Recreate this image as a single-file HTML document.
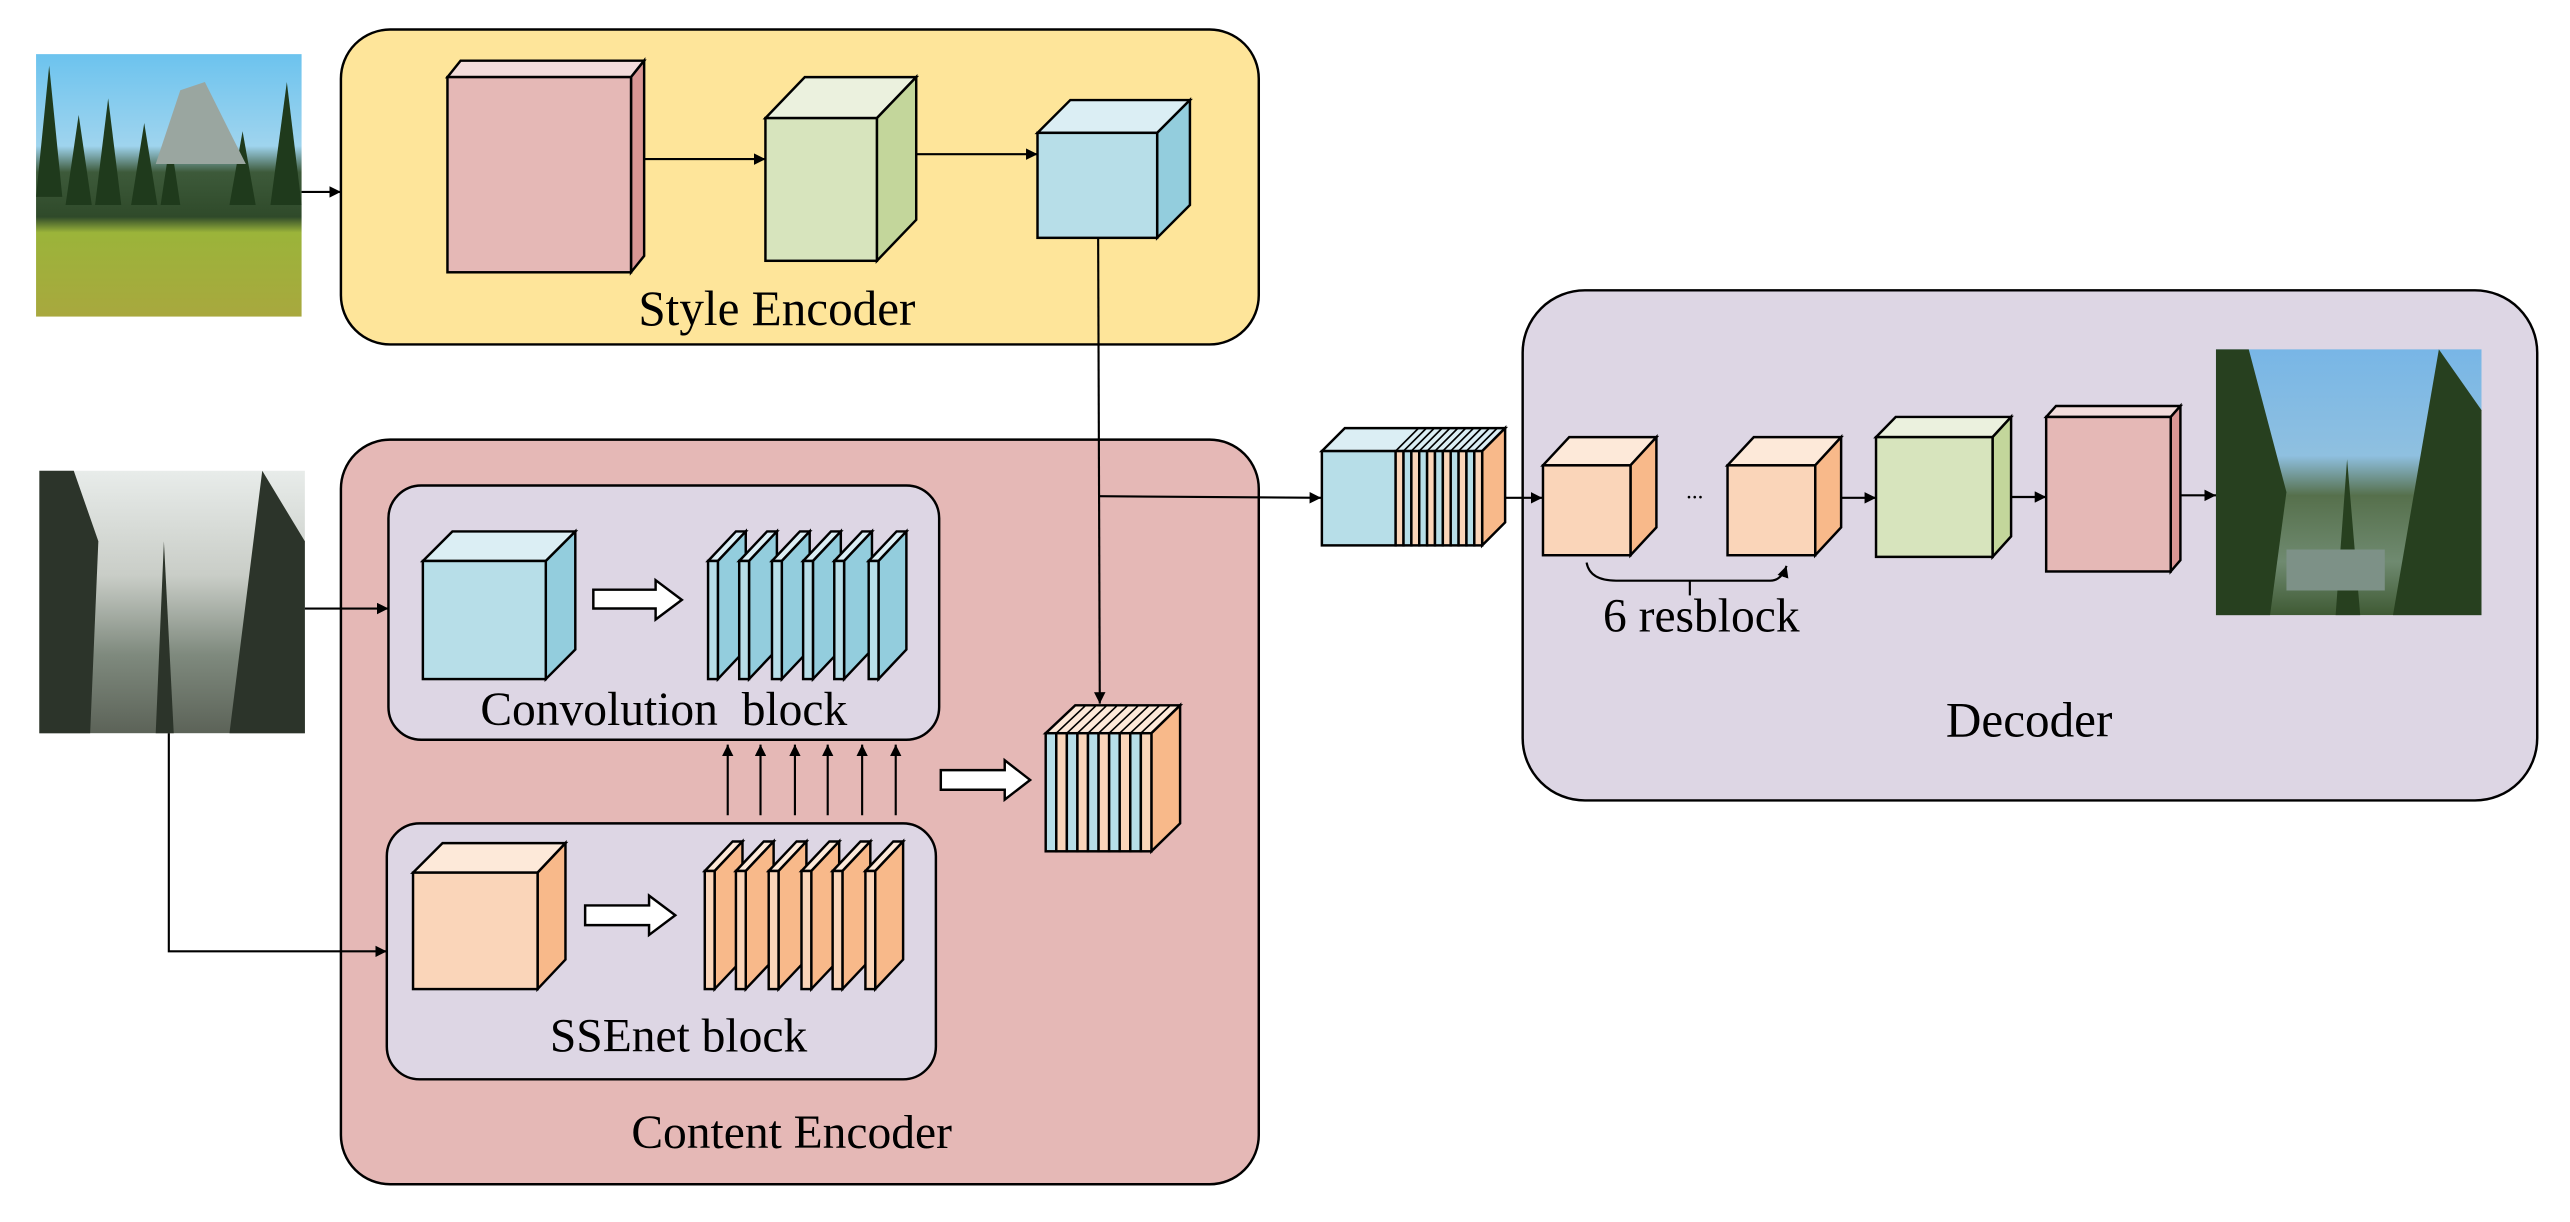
<!DOCTYPE html>
<html><head><meta charset="utf-8"><style>
html,body{margin:0;padding:0;background:#fff;}
svg{display:block;}
text{font-family:"Liberation Serif",serif;fill:#000;}
</style></head><body>
<svg width="2570" height="1222" viewBox="0 0 1568 745" preserveAspectRatio="none" xmlns="http://www.w3.org/2000/svg">
<defs>
<marker id="ah" viewBox="0 0 10 10" refX="10" refY="5" markerWidth="7" markerHeight="7" orient="auto-start-reverse" markerUnits="userSpaceOnUse"><path d="M0,0 L10,5 L0,10 z" fill="#000"/></marker>
<linearGradient id="sky1" x1="0" y1="0" x2="0" y2="1">
<stop offset="0" stop-color="#6cc3ee"/><stop offset="0.35" stop-color="#9fd4ee"/><stop offset="0.45" stop-color="#3d5a3a"/><stop offset="0.62" stop-color="#2f4a2a"/><stop offset="0.68" stop-color="#9bb43a"/><stop offset="1" stop-color="#a8a83e"/></linearGradient>
<linearGradient id="sky2" x1="0" y1="0" x2="0" y2="1">
<stop offset="0" stop-color="#e8ecea"/><stop offset="0.4" stop-color="#c9cdc7"/><stop offset="0.7" stop-color="#7f8a7e"/><stop offset="1" stop-color="#5c6358"/></linearGradient>
<linearGradient id="sky3" x1="0" y1="0" x2="0" y2="1">
<stop offset="0" stop-color="#78b6e6"/><stop offset="0.4" stop-color="#8fc0e0"/><stop offset="0.55" stop-color="#56704c"/><stop offset="0.8" stop-color="#6f8a70"/><stop offset="1" stop-color="#3f5a34"/></linearGradient>
</defs>

<!-- Style Encoder -->
<rect x="208" y="18" width="560" height="192" rx="30" fill="#FEE59A" stroke="#000" stroke-width="1.5"/>
<!-- Content Encoder -->
<rect x="208" y="268" width="560" height="454" rx="30" fill="#E5B8B6" stroke="#000" stroke-width="1.5"/>
<!-- Decoder -->
<rect x="929" y="177" width="619" height="311" rx="38" fill="#DDD6E4" stroke="#000" stroke-width="1.5"/>
<!-- inner blocks -->
<rect x="237" y="296" width="336" height="155" rx="20" fill="#DDD6E4" stroke="#000" stroke-width="1.5"/>
<rect x="236" y="502" width="335" height="156" rx="20" fill="#DDD6E4" stroke="#000" stroke-width="1.5"/>

<!-- Photos -->
<rect x="22" y="33" width="162" height="160" fill="url(#sky1)"/>
<g fill="#1f3a1c">
<polygon points="22,120 30,40 38,120"/><polygon points="40,125 48,70 56,125"/><polygon points="58,125 66,60 74,125"/><polygon points="80,125 88,75 96,125"/><polygon points="98,125 104,85 110,125"/><polygon points="140,125 148,80 156,125"/><polygon points="165,125 175,50 184,125"/>
</g>
<polygon points="95,100 110,55 125,50 140,80 150,100" fill="#9aa6a0"/>
<rect x="24" y="287" width="162" height="160" fill="url(#sky2)"/>
<g fill="#2c342a">
<polygon points="24,447 24,287 45,287 60,330 55,447"/><polygon points="140,447 160,287 186,330 186,447"/><polygon points="95,447 100,330 106,447"/>
</g>
<rect x="1352" y="213" width="162" height="162" fill="url(#sky3)"/>
<g fill="#27401f">
<polygon points="1352,375 1352,213 1372,213 1395,300 1385,375"/><polygon points="1460,375 1488,213 1514,250 1514,375"/><polygon points="1425,375 1432,280 1440,375"/>
</g>
<rect x="1395" y="335" width="60" height="25" fill="#7d9187"/>

<!-- Style encoder cubes -->
<g stroke="#000" stroke-width="1.5" stroke-linejoin="miter">
<polygon points="273,47 281,37 393,37 385,47" fill="#F2DCDB"/>
<polygon points="385,47 393,37 393,156 385,166" fill="#D99694"/>
<rect x="273" y="47" width="112" height="119" fill="#E5B8B6"/>

<polygon points="467,72 491,47 559,47 535,72" fill="#EBF1DE"/>
<polygon points="535,72 559,47 559,134 535,159" fill="#C3D69B"/>
<rect x="467" y="72" width="68" height="87" fill="#D7E4BD"/>

<polygon points="633,81 653,61 726,61 706,81" fill="#DBEEF4"/>
<polygon points="706,81 726,61 726,125 706,145" fill="#93CDDD"/>
<rect x="633" y="81" width="73" height="64" fill="#B7DEE8"/>

<!-- Conv block cube -->
<polygon points="258,342 276,324 351,324 333,342" fill="#DBEEF4"/>
<polygon points="333,342 351,324 351,396 333,414" fill="#93CDDD"/>
<rect x="258" y="342" width="75" height="72" fill="#B7DEE8"/>

<!-- SSEnet cube -->
<polygon points="252,532 270,514 345,514 328,532" fill="#FDE9D9"/>
<polygon points="328,532 345,514 345,585 328,603" fill="#F8B98A"/>
<rect x="252" y="532" width="76" height="71" fill="#FAD5B9"/>

<!-- Blue slices -->
<g>
<polygon points="432,342 449,324 455,324 438,342" fill="#DBEEF4"/><polygon points="438,342 455,324 455,396 438,414" fill="#93CDDD"/><rect x="432" y="342" width="6" height="72" fill="#B7DEE8"/>
<polygon points="451,342 468,324 474,324 457,342" fill="#DBEEF4"/><polygon points="457,342 474,324 474,396 457,414" fill="#93CDDD"/><rect x="451" y="342" width="6" height="72" fill="#B7DEE8"/>
<polygon points="471,342 488,324 494,324 477,342" fill="#DBEEF4"/><polygon points="477,342 494,324 494,396 477,414" fill="#93CDDD"/><rect x="471" y="342" width="6" height="72" fill="#B7DEE8"/>
<polygon points="490,342 507,324 513,324 496,342" fill="#DBEEF4"/><polygon points="496,342 513,324 513,396 496,414" fill="#93CDDD"/><rect x="490" y="342" width="6" height="72" fill="#B7DEE8"/>
<polygon points="509,342 526,324 532,324 515,342" fill="#DBEEF4"/><polygon points="515,342 532,324 532,396 515,414" fill="#93CDDD"/><rect x="509" y="342" width="6" height="72" fill="#B7DEE8"/>
<polygon points="530,342 547,324 553,324 536,342" fill="#DBEEF4"/><polygon points="536,342 553,324 553,396 536,414" fill="#93CDDD"/><rect x="530" y="342" width="6" height="72" fill="#B7DEE8"/>
</g>
<!-- Orange slices -->
<g>
<polygon points="430,531 447,513 453,513 436,531" fill="#FDE9D9"/><polygon points="436,531 453,513 453,585 436,603" fill="#F8B98A"/><rect x="430" y="531" width="6" height="72" fill="#FAD5B9"/>
<polygon points="449,531 466,513 472,513 455,531" fill="#FDE9D9"/><polygon points="455,531 472,513 472,585 455,603" fill="#F8B98A"/><rect x="449" y="531" width="6" height="72" fill="#FAD5B9"/>
<polygon points="469,531 486,513 492,513 475,531" fill="#FDE9D9"/><polygon points="475,531 492,513 492,585 475,603" fill="#F8B98A"/><rect x="469" y="531" width="6" height="72" fill="#FAD5B9"/>
<polygon points="489,531 506,513 512,513 495,531" fill="#FDE9D9"/><polygon points="495,531 512,513 512,585 495,603" fill="#F8B98A"/><rect x="489" y="531" width="6" height="72" fill="#FAD5B9"/>
<polygon points="508,531 525,513 531,513 514,531" fill="#FDE9D9"/><polygon points="514,531 531,513 531,585 514,603" fill="#F8B98A"/><rect x="508" y="531" width="6" height="72" fill="#FAD5B9"/>
<polygon points="528,531 545,513 551,513 534,531" fill="#FDE9D9"/><polygon points="534,531 551,513 551,585 534,603" fill="#F8B98A"/><rect x="528" y="531" width="6" height="72" fill="#FAD5B9"/>
</g>

<!-- Content concat block -->
<polygon points="638,447 656,430 720,430 702.5,447" fill="#FDE9D9"/>
<polygon points="702.5,447 720,430 720,502 702.5,519" fill="#F8B98A"/>
<rect x="638" y="447" width="6.45" height="72" fill="#B7DEE8"/>
<rect x="644.45" y="447" width="6.45" height="72" fill="#FAD5B9"/>
<rect x="650.9" y="447" width="6.45" height="72" fill="#B7DEE8"/>
<rect x="657.35" y="447" width="6.45" height="72" fill="#FAD5B9"/>
<rect x="663.8" y="447" width="6.45" height="72" fill="#B7DEE8"/>
<rect x="670.25" y="447" width="6.45" height="72" fill="#FAD5B9"/>
<rect x="676.7" y="447" width="6.45" height="72" fill="#B7DEE8"/>
<rect x="683.15" y="447" width="6.45" height="72" fill="#FAD5B9"/>
<rect x="689.6" y="447" width="6.45" height="72" fill="#B7DEE8"/>
<rect x="696.05" y="447" width="6.45" height="72" fill="#FAD5B9"/>
<g stroke-width="1"><path d="M644.45,447 L662.45,430 M650.9,447 L668.9,430 M657.35,447 L675.35,430 M663.8,447 L681.8,430 M670.25,447 L688.25,430 M676.7,447 L694.7,430 M683.15,447 L701.15,430 M689.6,447 L707.6,430 M696.05,447 L714.05,430" fill="none"/></g>

<!-- Decoder concat block -->
<polygon points="806.5,275 820.5,261 918.3,261 904.3,275" fill="#DBEEF4"/>
<polygon points="904.3,275 918.3,261 918.3,318.5 904.3,332.5" fill="#F8B98A"/>
<rect x="806.5" y="275" width="45" height="57.5" fill="#B7DEE8"/>
<rect x="851.5" y="275" width="4.8" height="57.5" fill="#FAD5B9"/>
<rect x="856.3" y="275" width="4.8" height="57.5" fill="#B7DEE8"/>
<rect x="861.1" y="275" width="4.8" height="57.5" fill="#FAD5B9"/>
<rect x="865.9" y="275" width="4.8" height="57.5" fill="#B7DEE8"/>
<rect x="870.7" y="275" width="4.8" height="57.5" fill="#FAD5B9"/>
<rect x="875.5" y="275" width="4.8" height="57.5" fill="#B7DEE8"/>
<rect x="880.3" y="275" width="4.8" height="57.5" fill="#FAD5B9"/>
<rect x="885.1" y="275" width="4.8" height="57.5" fill="#B7DEE8"/>
<rect x="889.9" y="275" width="4.8" height="57.5" fill="#FAD5B9"/>
<rect x="894.7" y="275" width="4.8" height="57.5" fill="#B7DEE8"/>
<rect x="899.5" y="275" width="4.8" height="57.5" fill="#FAD5B9"/>
<g stroke-width="1"><path d="M851.5,275 L865.5,261 M856.3,275 L870.3,261 M861.1,275 L875.1,261 M865.9,275 L879.9,261 M870.7,275 L884.7,261 M875.5,275 L889.5,261 M880.3,275 L894.3,261 M885.1,275 L899.1,261 M889.9,275 L903.9,261 M894.7,275 L908.7,261 M899.5,275 L913.5,261" fill="none"/></g>

<!-- Decoder cubes -->
<polygon points="941.4,283.7 957.4,266.5 1010.6,266.5 994.8,283.7" fill="#FDE9D9"/>
<polygon points="994.8,283.7 1010.6,266.5 1010.6,321.5 994.8,338.5" fill="#F8B98A"/>
<rect x="941.4" y="283.7" width="53.4" height="54.8" fill="#FAD5B9"/>

<polygon points="1054,283.7 1070,266.5 1123.3,266.5 1107.5,283.7" fill="#FDE9D9"/>
<polygon points="1107.5,283.7 1123.3,266.5 1123.3,321.5 1107.5,338.5" fill="#F8B98A"/>
<rect x="1054" y="283.7" width="53.5" height="54.8" fill="#FAD5B9"/>

<polygon points="1144.6,266.5 1156.6,254.2 1227,254.2 1215.7,266.5" fill="#EBF1DE"/>
<polygon points="1215.7,266.5 1227,254.2 1227,327 1215.7,339.5" fill="#C3D69B"/>
<rect x="1144.6" y="266.5" width="71.1" height="73" fill="#D7E4BD"/>

<polygon points="1248.4,254.2 1254.4,247.5 1330.3,247.5 1324.4,254.2" fill="#F2DCDB"/>
<polygon points="1324.4,254.2 1330.3,247.5 1330.3,341.5 1324.4,348.4" fill="#D99694"/>
<rect x="1248.4" y="254.2" width="76" height="94.2" fill="#E5B8B6"/>

<!-- Hollow arrows -->
<polygon points="362,359.5 400,359.5 400,353.7 416,365.7 400,377.7 400,371 362,371" fill="#fff"/>
<polygon points="357,552 396,552 396,546 412,558 396,570 396,564 357,564" fill="#fff"/>
<polygon points="574,469.5 613,469.5 613,463.5 628.5,475.5 613,487.5 613,481.5 574,481.5" fill="#fff"/>
</g>

<!-- Connectors -->
<g stroke="#000" stroke-width="1.3" fill="none">
<line x1="184" y1="117" x2="208" y2="117" marker-end="url(#ah)"/>
<line x1="393" y1="97" x2="467" y2="97" marker-end="url(#ah)"/>
<line x1="559" y1="94" x2="633" y2="94" marker-end="url(#ah)"/>
<line x1="670" y1="145" x2="671" y2="429" marker-end="url(#ah)"/>
<line x1="670.5" y1="302.5" x2="806" y2="303.5" marker-end="url(#ah)"/>
<line x1="186" y1="371" x2="237" y2="371" marker-end="url(#ah)"/>
<polyline points="103,447 103,580 236,580" marker-end="url(#ah)"/>
<line x1="444" y1="497" x2="444" y2="454" marker-end="url(#ah)"/>
<line x1="464" y1="497" x2="464" y2="454" marker-end="url(#ah)"/>
<line x1="485" y1="497" x2="485" y2="454" marker-end="url(#ah)"/>
<line x1="505" y1="497" x2="505" y2="454" marker-end="url(#ah)"/>
<line x1="526" y1="497" x2="526" y2="454" marker-end="url(#ah)"/>
<line x1="546.5" y1="497" x2="546.5" y2="454" marker-end="url(#ah)"/>
<line x1="918.3" y1="303.5" x2="941" y2="303.5" marker-end="url(#ah)"/>
<line x1="1123.3" y1="303.5" x2="1144.6" y2="303.5" marker-end="url(#ah)"/>
<line x1="1227" y1="303" x2="1248.4" y2="303" marker-end="url(#ah)"/>
<line x1="1330.3" y1="302" x2="1352" y2="302" marker-end="url(#ah)"/>
<path d="M968,343 Q970,354 986,354 L1080,354 Q1087,354 1090,345" marker-end="url(#ah)"/>
<line x1="1031" y1="354" x2="1031" y2="363"/>
</g>

<!-- Labels -->
<text x="474" y="198" font-size="30" text-anchor="middle">Style Encoder</text>
<text x="405" y="442" font-size="29" text-anchor="middle" xml:space="preserve">Convolution  block</text>
<text x="414" y="641" font-size="29" text-anchor="middle">SSEnet block</text>
<text x="483" y="700" font-size="29" text-anchor="middle">Content Encoder</text>
<text x="1238" y="449" font-size="30" text-anchor="middle">Decoder</text>
<text x="1038" y="385" font-size="29" text-anchor="middle">6 resblock</text>
<text x="1034" y="304" font-size="14" text-anchor="middle">...</text>
</svg>
</body></html>
